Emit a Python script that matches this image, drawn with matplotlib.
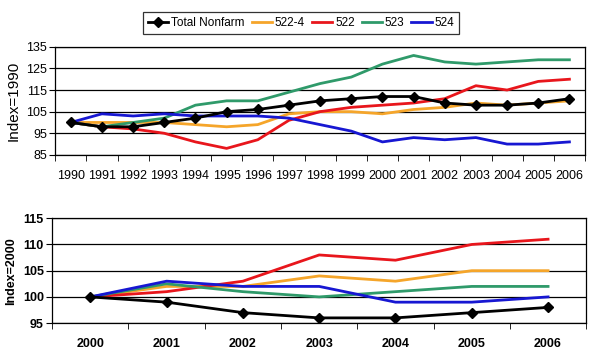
import matplotlib
matplotlib.use('Agg')
import matplotlib.pyplot as plt
import numpy as np

plt.rcParams['font.family'] = ['Liberation Sans', 'DejaVu Sans']

years_top = ['1990', '1991', '1992', '1993', '1994', '1995', '1996', '1997', '1998',
             '1999', '2000', '2001', '2002', '2003', '2004', '2005', '2006']
total_top = [100, 98, 98, 100, 102, 105, 106, 108, 110, 111, 112, 112, 109, 108, 108, 109, 111]
s5224_top = [100, 100, 100, 100, 99, 98, 99, 104, 105, 105, 104, 106, 107, 109, 108, 109, 110]
s522_top = [100, 98, 97, 95, 91, 88, 92, 101, 105, 107, 108, 109, 111, 117, 115, 119, 120]
s523_top = [100, 98, 100, 102, 108, 110, 110, 114, 118, 121, 127, 131, 128, 127, 128, 129, 129]
s524_top = [100, 104, 103, 104, 103, 103, 103, 102, 99, 96, 91, 93, 92, 93, 90, 90, 91]

years_bot = ['2000', '2001', '2002', '2003', '2004', '2005', '2006']
total_bot = [100, 99, 97, 96, 96, 97, 98]
s5224_bot = [100, 102, 102, 104, 103, 105, 105]
s522_bot = [100, 101, 103, 108, 107, 110, 111]
s523_bot = [100, 102.5, 101, 100, 101, 102, 102]
s524_bot = [100, 103, 102, 102, 99, 99, 100]

C_ORANGE = '#f5a52a'
C_RED = '#e8161c'
C_GREEN = '#2f9a6a'
C_BLUE = '#1717d2'


def draw(ax, years, total, s5224, s522, s523, s524, ylim, yticks, ylabel, bold, ysize):
    x = np.arange(len(years))
    ax.plot(x, s5224, color=C_ORANGE, lw=2, label='522-4', zorder=3)
    ax.plot(x, s522, color=C_RED, lw=2, label='522', zorder=3)
    ax.plot(x, s523, color=C_GREEN, lw=2, label='523', zorder=3)
    ax.plot(x, s524, color=C_BLUE, lw=2, label='524', zorder=3)
    ax.plot(x, total, color='black', lw=2, marker='D', ms=5.5, label='Total Nonfarm', zorder=4)
    ax.set_xlim(-0.5, len(years) - 0.5)
    ax.set_ylim(*ylim)
    ax.yaxis.grid(True, color='black', lw=0.9)
    ax.set_axisbelow(True)
    weight = 'bold' if bold else 'normal'
    ax.set_xticks(x)
    ax.set_xticklabels(years, fontsize=9, fontweight=weight)
    ax.set_yticks(yticks)
    ax.set_yticklabels([str(v) for v in yticks], fontsize=9, fontweight=weight)
    ax.tick_params(axis='x', which='major', length=0, pad=11)
    ax.set_xticks(np.arange(len(years) + 1) - 0.5, minor=True)
    ax.tick_params(axis='x', which='minor', length=4, direction='out')
    ax.tick_params(axis='y', length=4, direction='out', pad=2)
    ax.set_ylabel(ylabel, fontsize=ysize, fontweight=weight, labelpad=4)
    for sp in ax.spines.values():
        sp.set_color('black')
        sp.set_linewidth(0.9)


fig = plt.figure(figsize=(6.0, 3.52), dpi=100)
ax1 = fig.add_axes([0.092, 0.56, 0.883, 0.307])
ax2 = fig.add_axes([0.087, 0.082, 0.89, 0.298])

draw(ax1, years_top, total_top, s5224_top, s522_top, s523_top, s524_top,
     (85, 135), [85, 95, 105, 115, 125, 135], 'Index=1990', False, 11)
draw(ax2, years_bot, total_bot, s5224_bot, s522_bot, s523_bot, s524_bot,
     (95, 115), [95, 100, 105, 110, 115], 'Index=2000', True, 9)

handles, labels = ax1.get_legend_handles_labels()
order = [4, 0, 1, 2, 3]
leg = fig.legend([handles[i] for i in order], [labels[i] for i in order],
                 loc='center', bbox_to_anchor=(0.502, 0.935), ncol=5, fontsize=8.5,
                 frameon=True, fancybox=False, shadow=False, handlelength=1.7,
                 handletextpad=0.25, columnspacing=0.6, borderpad=0.4)
leg.get_frame().set_edgecolor('black')
leg.get_frame().set_linewidth(0.9)

fig.savefig('out.png', dpi=100)
